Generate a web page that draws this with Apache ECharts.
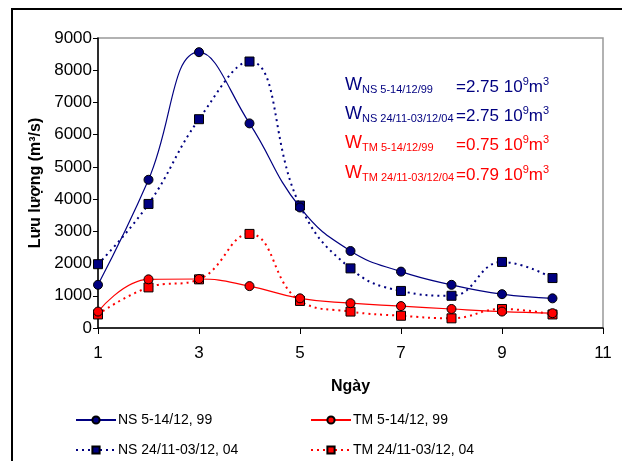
<!DOCTYPE html>
<html>
<head>
<meta charset="utf-8">
<script src="https://cdn.jsdelivr.net/npm/echarts@6/dist/echarts.min.js"></script>
<style>
html, body { margin: 0; padding: 0; background: #fff; }
#chart { width: 622px; height: 461px; }
</style>
</head>
<body>
<div id="chart"></div>
<script>
// ngay
var days = [1, 2, 3, 4, 5, 6, 7, 8, 9, 10];
// luu luong (m3/s)
var ns99 = [1340, 4600, 8560, 6350, 3740, 2390, 1750, 1340, 1050, 920];
var ns04 = [1980, 3850, 6480, 8270, 3800, 1850, 1150, 1000, 2050, 1550];
var tm99 = [510, 1510, 1520, 1300, 920, 770, 680, 590, 510, 460];
var tm04 = [420, 1260, 1510, 2920, 840, 510, 380, 300, 590, 420];
var seriesNames = ['NS 5-14/12, 99', 'NS 24/11-03/12, 04', 'TM 5-14/12, 99', 'TM 24/11-03/12, 04'];
// chu thich tong luong
var noteSubs = ['NS 5-14/12/99', 'NS 24/11-03/12/04', 'TM 5-14/12/99', 'TM 24/11-03/12/04'];
var noteVals = ['2.75', '2.75', '0.75', '0.79'];

var BLUE = '#000080', RED = '#ff0000';
var FONT = '"Liberation Sans", Arial, sans-serif';

function pairs(vals) {
	var out = [];
	for (var i = 0; i < days.length; i++) out.push([days[i], vals[i]]);
	return out;
}

function mkSeries(name, vals, color, symbol, dashed) {
	return {
		name: name,
		type: 'line',
		smooth: 0.45,
		data: pairs(vals),
		symbol: symbol,
		symbolSize: 9,
		itemStyle: { color: color, borderColor: '#000', borderWidth: 1 },
		lineStyle: { color: color, width: dashed ? 2 : 1.2, type: dashed ? [2, 4] : 'solid' },
		z: dashed ? 2 : 3
	};
}

var graphics = [
	{ type: 'rect', shape: { x: 12, y: 9, width: 700, height: 500 }, style: { fill: 'none', stroke: '#000', lineWidth: 2 }, silent: true }
];
var noteY = [87, 116, 145, 175];
for (var i = 0; i < noteSubs.length; i++) {
	var c = i < 2 ? BLUE : RED;
	graphics.push({
		type: 'text', left: 345, top: noteY[i] - 11,
		style: {
			text: '{w|W}{s|' + noteSubs[i] + '}',
			rich: {
				w: { fontSize: 18, fontFamily: FONT, fill: c, lineHeight: 22, verticalAlign: 'middle' },
				s: { fontSize: 11, fontFamily: FONT, fill: c, lineHeight: 22, verticalAlign: 'bottom', padding: [0, 0, 1, 0] }
			}
		}
	});
	graphics.push({
		type: 'text', left: 456, top: noteY[i] - 11,
		style: {
			text: '{v|=' + noteVals[i] + ' 10}{p|9}{v|m}{p|3}',
			rich: {
				v: { fontSize: 17, fontFamily: FONT, fill: c, lineHeight: 22, verticalAlign: 'middle' },
				p: { fontSize: 11, fontFamily: FONT, fill: c, lineHeight: 22, verticalAlign: 'top' }
			}
		}
	});
}

function mkLegend(name, left, top) {
	return {
		data: [name], left: left, top: top,
		itemWidth: 40, itemHeight: 9, itemGap: 0,
		padding: 0,
		textStyle: { fontSize: 14, fontFamily: FONT, color: '#000', padding: [0, 0, 0, -3] },
		selectedMode: false
	};
}

var option = {
	animation: false,
	backgroundColor: '#fff',
	textStyle: { fontFamily: FONT },
	grid: { left: 98, right: 19, top: 38, bottom: 133, show: true, borderColor: '#999', borderWidth: 1.5, backgroundColor: 'transparent' },
	legend: [
		mkLegend(seriesNames[0], 75, 413),
		mkLegend(seriesNames[2], 310, 413),
		mkLegend(seriesNames[1], 75, 443),
		mkLegend(seriesNames[3], 310, 443)
	],
	xAxis: {
		type: 'value', min: 1, max: 11, interval: 2,
		name: 'Ngày', nameLocation: 'middle', nameGap: 51,
		nameTextStyle: { fontSize: 16, fontWeight: 'bold', color: '#000', fontFamily: FONT },
		axisLine: { lineStyle: { color: '#000', width: 1.5 } },
		axisTick: { inside: false, length: 6, lineStyle: { color: '#000' } },
		axisLabel: { fontSize: 17, color: '#000', margin: 17, fontFamily: FONT },
		splitLine: { show: false }
	},
	yAxis: {
		type: 'value', min: 0, max: 9000, interval: 1000,
		name: 'Lưu lượng (m³/s)', nameLocation: 'middle', nameGap: 52, nameRotate: 90,
		nameTextStyle: { fontSize: 16, fontWeight: 'bold', color: '#000', fontFamily: FONT },
		axisLine: { show: true, lineStyle: { color: '#000', width: 1.5 } },
		axisTick: { show: true, length: 5, lineStyle: { color: '#000' } },
		axisLabel: { fontSize: 17, color: '#000', margin: 6, fontFamily: FONT, formatter: function (v) { return String(v); } },
		splitLine: { show: false }
	},
	graphic: graphics,
	series: [
		mkSeries(seriesNames[0], ns99, BLUE, 'circle', false),
		mkSeries(seriesNames[1], ns04, BLUE, 'rect', true),
		mkSeries(seriesNames[2], tm99, RED, 'circle', false),
		mkSeries(seriesNames[3], tm04, RED, 'rect', true)
	]
};

var myChart = echarts.init(document.getElementById('chart'), null, { renderer: 'canvas' });
myChart.setOption(option);
</script>
</body>
</html>
